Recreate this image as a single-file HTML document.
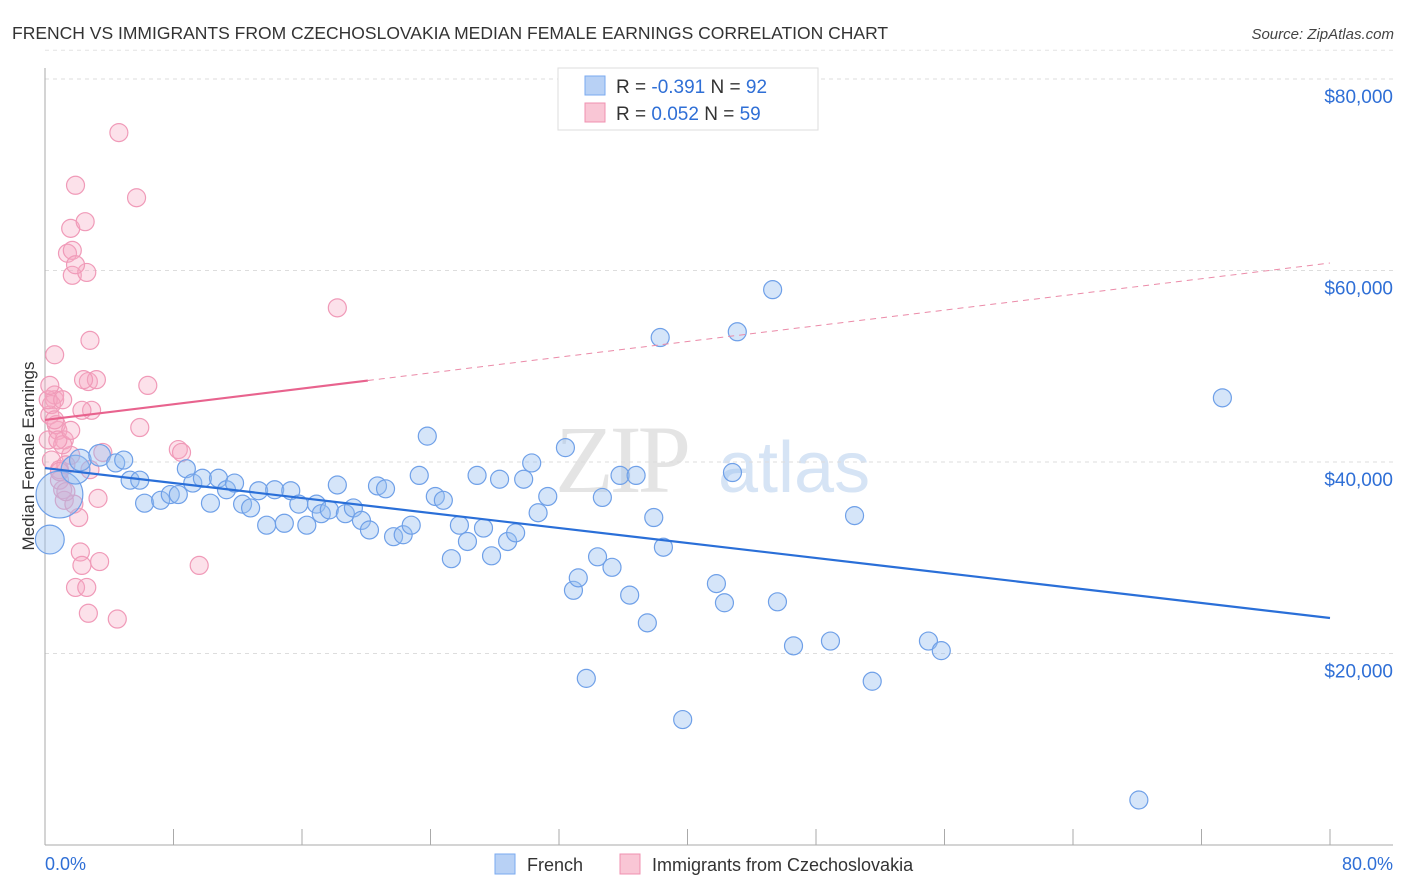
<!DOCTYPE html>
<html><head><meta charset="utf-8"><style>
body{margin:0;background:#fff;font-family:"Liberation Sans",sans-serif;}
svg{display:block}
</style></head><body>
<svg id="chart" width="1406" height="892" viewBox="0 0 1406 892" xmlns="http://www.w3.org/2000/svg">
<text x="12" y="39" font-size="17.5" fill="#333">FRENCH VS IMMIGRANTS FROM CZECHOSLOVAKIA MEDIAN FEMALE EARNINGS CORRELATION CHART</text>
<text x="1394" y="39" font-size="15" fill="#444" font-style="italic" text-anchor="end">Source: ZipAtlas.com</text>
<g>
<text x="555" y="492" font-size="96" fill="#e4e4e4" font-family="Liberation Serif,serif" letter-spacing="-4">ZIP</text>
<text x="718" y="492" font-size="72" fill="#d6e4f5">atlas</text>
</g>
<g id="grid"></g>
<g id="axes"></g>
<g id="pts"></g>
<g id="trend"></g>
<text transform="translate(34,456) rotate(-90)" font-size="17" fill="#333" text-anchor="middle">Median Female Earnings</text>
<g>
<rect x="558" y="68" width="260" height="62" fill="#fff" stroke="#ddd"/>
<rect x="585" y="76" width="20" height="19" fill="#b8d1f5" stroke="#7aaaf0"/>
<rect x="585" y="103" width="20" height="19" fill="#f9c6d5" stroke="#f090b0"/>
<text x="616" y="93" font-size="19" fill="#333">R = <tspan fill="#2f6fd6">-0.391</tspan>   N = <tspan fill="#2f6fd6">92</tspan></text>
<text x="616" y="120" font-size="19" fill="#333">R =  <tspan fill="#2f6fd6">0.052</tspan>   N = <tspan fill="#2f6fd6">59</tspan></text>
</g>
<g>
<rect x="495" y="854" width="20" height="20" fill="#b8d1f5" stroke="#7aaaf0"/>
<text x="527" y="871" font-size="18" fill="#333">French</text>
<rect x="620" y="854" width="20" height="20" fill="#f9c6d5" stroke="#f090b0"/>
<text x="652" y="871" font-size="18" fill="#333">Immigrants from Czechoslovakia</text>
</g>
</svg>
<script>
const yTicks=[20000,40000,60000,80000];
const yTickLabels=["$20,000","$40,000","$60,000","$80,000"];
const xTicks=[0,8,16,24,32,40,48,56,64,72,80];
const frenchX=[0.3,0.9,1.9,2.2,3.4,4.4,4.9,5.3,6.2,5.9,7.2,7.8,8.3,8.8,9.2,9.8,10.3,10.8,11.3,11.8,12.3,12.8,13.3,13.8,14.3,14.9,15.3,15.8,16.3,16.9,17.2,17.7,18.2,18.7,19.2,19.7,20.2,20.7,21.2,21.7,22.3,22.8,23.3,23.8,24.3,24.8,25.3,25.8,26.3,26.9,27.3,27.8,28.3,28.8,29.3,29.8,30.3,30.7,31.3,32.4,32.9,33.2,33.7,34.4,34.7,35.3,35.8,36.4,36.8,37.5,37.9,38.3,38.5,39.7,41.8,42.3,42.8,43.1,45.3,45.6,46.6,48.9,50.4,51.5,55.0,55.8,73.3,68.1];
const frenchY=[31.9,36.6,39.2,40.2,40.7,39.9,40.2,38.1,35.7,38.1,36.0,36.6,36.6,39.3,37.8,38.3,35.7,38.3,37.1,37.8,35.6,35.2,37.0,33.4,37.1,33.6,37.0,35.6,33.4,35.6,34.6,35.0,37.6,34.6,35.2,33.9,32.9,37.5,37.2,32.2,32.4,33.4,38.6,42.7,36.4,36.0,29.9,33.4,31.7,38.6,33.1,30.2,38.2,31.7,32.6,38.2,39.9,34.7,36.4,41.5,26.6,27.9,17.4,30.1,36.3,29.0,38.6,26.1,38.6,23.2,34.2,53.0,31.1,13.1,27.3,25.3,38.9,53.6,58.0,25.4,20.8,21.3,34.4,17.1,21.3,20.3,46.7,4.7];
const frenchSize=[1.6,2.6,1.6,1.2,1.2,1,1,1,1,1,1,1,1,1,1,1,1,1,1,1,1,1,1,1,1,1,1,1,1,1,1,1,1,1,1,1,1,1,1,1,1,1,1,1,1,1,1,1,1,1,1,1,1,1,1,1,1,1,1,1,1,1,1,1,1,1,1,1,1,1,1,1,1,1,1,1,1,1,1,1,1,1,1,1,1,1,1,1];
const czechX=[0.6,0.3,0.2,0.4,0.6,0.8,0.9,1.1,1.2,1.4,1.6,1.7,1.9,2.1,2.2,2.3,2.5,2.6,2.7,2.8,2.9,3.2,3.3,3.4,3.6,1.9,2.6,2.7,4.5,4.6,5.7,5.9,6.4,8.3,8.5,9.6,18.2,1.6,1.2,0.9,0.6,0.4,0.7,1.1,1.3,1.7,1.9,2.3,2.4,0.8,0.2,0.3,0.6,1.1,1.6,1.8,2.8,1.3,0.9];
const czechY=[46.5,44.9,42.3,40.2,51.2,43.3,39.2,37.1,36.0,61.8,64.4,59.5,68.9,34.2,30.6,29.2,65.1,59.8,48.4,52.7,45.4,48.6,36.2,29.6,41.0,26.9,26.9,24.2,23.6,74.4,67.6,43.6,48.0,41.3,41.0,29.2,56.1,40.7,42.3,38.1,47.0,46.0,43.9,41.8,39.7,62.1,60.6,45.4,48.6,42.3,46.5,48.0,44.4,46.5,43.3,35.6,39.2,36.9,39.0];
const frenchTrend=[39.37,23.71];
const czechTrend=[44.39,60.78];
const czechSolidEnd=20.1;

const X0=45,X1=1330,YB=845,PX=191.5/20000;
const sx=v=>X0+(v/80)*(X1-X0);
const sy=v=>YB-v*PX;
const NS="http://www.w3.org/2000/svg";
function mk(t,a,p){const e=document.createElementNS(NS,t);for(const k in a)e.setAttribute(k,a[k]);p.appendChild(e);return e;}
const grid=document.getElementById('grid'),axes=document.getElementById('axes'),pts=document.getElementById('pts'),tr=document.getElementById('trend');
yTicks.concat([]).forEach((v,i)=>{
 const l=mk('line',{x1:X0,x2:1393,y1:sy(v),y2:sy(v),stroke:'#ddd','stroke-dasharray':'4,4'},grid);
 
 
 const t=mk('text',{x:1393,y:sy(v)+24,'text-anchor':'end','font-size':19,fill:'#2f6fd6'},axes);
 t.textContent=yTickLabels[i];
 
 
});
const tg=mk('line',{x1:X0,x2:1393,y1:sy(83000),y2:sy(83000),stroke:'#e4e4e4','stroke-dasharray':'4,4'},grid);
const ya=mk('line',{x1:X0,x2:X0,y1:68,y2:YB,stroke:'#aaa'},axes);


const xa=mk('line',{x1:X0,x2:1393,y1:YB,y2:YB,stroke:'#aaa'},axes);


xTicks.forEach(v=>{
 const l=mk('line',{x1:sx(v),x2:sx(v),y1:829,y2:YB,stroke:'#aaa'},axes);
 
 
});
const xl0=mk('text',{x:X0,y:870,'font-size':18,fill:'#2f6fd6'},axes);xl0.textContent='0.0%';


const xl1=mk('text',{x:1393,y:870,'font-size':18,fill:'#2f6fd6','text-anchor':'end'},axes);xl1.textContent='80.0%';


czechX.forEach((x,i)=>{
 const c=mk('circle',{cx:sx(x),cy:sy(czechY[i]*1000),r:9,fill:'rgba(245,170,195,0.35)',stroke:'#f09ab8','stroke-width':1.2},pts);
 
 
});
frenchX.forEach((x,i)=>{
 const c=mk('circle',{cx:sx(x),cy:sy(frenchY[i]*1000),r:9*frenchSize[i],fill:'rgba(150,190,240,0.4)',stroke:'#6fa0e8','stroke-width':1.2},pts);
 
 
});
const ft=mk('line',{x1:sx(0),y1:sy(frenchTrend[0]*1000),x2:sx(80),y2:sy(frenchTrend[1]*1000),stroke:'#2a6fd8','stroke-width':2.2},tr);


const cMid=czechTrend[0]+(czechTrend[1]-czechTrend[0])*czechSolidEnd/80;
const ct=mk('line',{x1:sx(0),y1:sy(czechTrend[0]*1000),x2:sx(czechSolidEnd),y2:sy(cMid*1000),stroke:'#e8638e','stroke-width':2.2},tr);


const cd=mk('line',{x1:sx(czechSolidEnd),y1:sy(cMid*1000),x2:sx(80),y2:sy(czechTrend[1]*1000),stroke:'#eb8aa8','stroke-width':1,'stroke-dasharray':'6,5'},tr);


</script>
</body></html>
